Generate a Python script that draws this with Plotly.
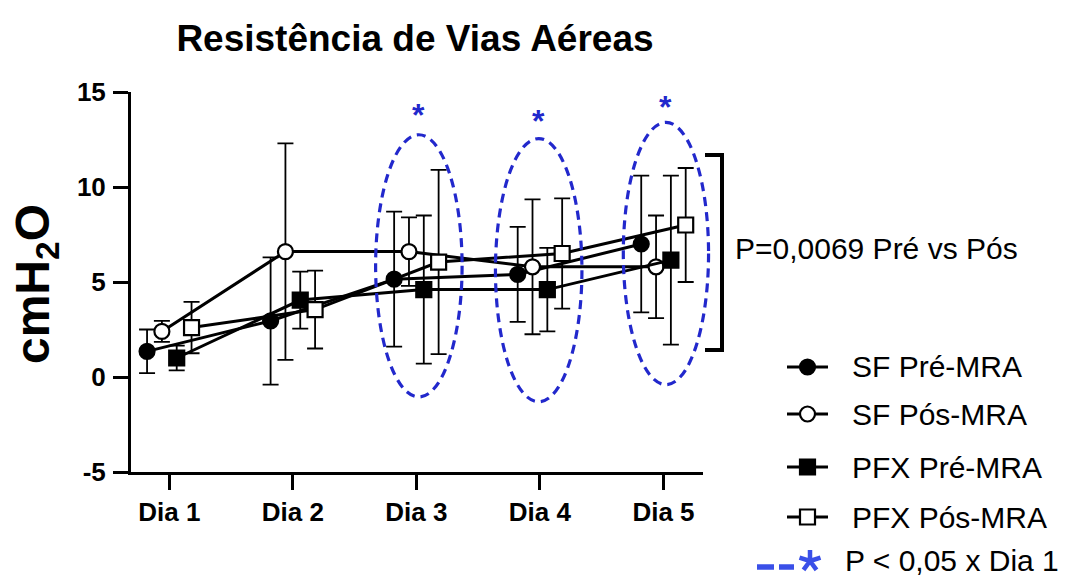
import plotly.graph_objects as go

# ---------------- data ----------------
days = ["Dia 1", "Dia 2", "Dia 3", "Dia 4", "Dia 5"]
series_names = ["SF Pré-MRA", "SF Pós-MRA", "PFX Pré-MRA", "PFX Pós-MRA"]

sf_pre = [1.35, 2.95, 5.15, 5.4, 7.0]
sf_pre_err = [1.15, 3.35, 3.55, 2.5, 3.6]
sf_pos = [2.4, 6.6, 6.6, 5.8, 5.8]
sf_pos_err = [0.55, 5.7, 1.8, 3.55, 2.7]
pfx_pre = [1.0, 4.05, 4.6, 4.6, 6.15]
pfx_pre_err = [0.65, 1.5, 3.9, 2.2, 4.45]
pfx_pos = [2.6, 3.55, 6.05, 6.5, 8.0]
pfx_pos_err = [1.35, 2.05, 4.85, 2.9, 3.0]

y_ticks = [-5, 0, 5, 10, 15]
y_ticktext = ["-5", "0", "5", "10", "15"]
title_text = "Resistência de Vias Aéreas"
p_text = "P=0,0069 Pré vs Pós"
sig_text = "P < 0,05 x Dia 1"

# ---------------- layout / style ----------------
W, H = 1089, 577
ML, MT = 131, 92
PLOT_R, PLOT_B = 703, 472
XR = [-0.31, 4.32]
YR = [-5, 15]
FONT = "Arial, 'Liberation Sans', sans-serif"
BLUE = "#2228cc"
BLUE2 = "#3a50e8"

offsets = [-0.18, -0.06, 0.06, 0.18]
symbols = ["circle", "circle", "square", "square"]
fills = ["black", "white", "black", "white"]
values = [sf_pre, sf_pos, pfx_pre, pfx_pos]
errors = [sf_pre_err, sf_pos_err, pfx_pre_err, pfx_pos_err]

pw = PLOT_R - ML
ph = PLOT_B - MT


def px_x(px):
    return (px - ML) / pw


def px_y(py):
    return (PLOT_B - py) / ph


def dom_x(v):
    return (v - XR[0]) / (XR[1] - XR[0])


def dom_y(v):
    return (v - YR[0]) / (YR[1] - YR[0])


fig = go.Figure()
for name, vals, errs, off, sym, fc in zip(series_names, values, errors, offsets, symbols, fills):
    fig.add_trace(go.Scatter(
        x=[i + off for i in range(len(days))],
        y=vals,
        mode="lines+markers",
        name=name,
        line=dict(color="black", width=3),
        marker=dict(symbol=sym, size=15, color=fc, line=dict(color="black", width=2.2)),
        error_y=dict(type="data", array=errs, visible=True, color="black", thickness=1.8, width=8),
        showlegend=False,
        cliponaxis=False,
    ))

shapes = []
annotations = []

# significance ellipses (day index, x shift, half width, y top, y bottom)
ellipses = [(2, 0.02, 0.35, 12.75, -1.05), (3, -0.01, 0.35, 12.55, -1.3), (4, 0.02, 0.345, 13.4, -0.4)]
star_y = [13.8, 13.5, 14.2]
for (d, sh, hw, yt, yb), sy in zip(ellipses, star_y):
    cx = d + sh
    shapes.append(dict(type="circle", xref="x domain", yref="y domain",
                       x0=dom_x(cx - hw), x1=dom_x(cx + hw), y0=dom_y(yb), y1=dom_y(yt),
                       line=dict(color=BLUE, width=3.2, dash="9px,6px"), layer="above"))
    annotations.append(dict(x=cx, y=sy, xref="x", yref="y", text="<b>*</b>", showarrow=False,
                            font=dict(family=FONT, size=32, color=BLUE), yanchor="middle"))

# bracket
bx, btop, bbot, barm = 722, 155, 350, 705
shapes += [
    dict(type="line", xref="paper", yref="paper", x0=px_x(bx), x1=px_x(bx), y0=px_y(btop), y1=px_y(bbot),
         line=dict(color="black", width=4)),
    dict(type="line", xref="paper", yref="paper", x0=px_x(barm), x1=px_x(bx + 2), y0=px_y(btop), y1=px_y(btop),
         line=dict(color="black", width=4)),
    dict(type="line", xref="paper", yref="paper", x0=px_x(barm), x1=px_x(bx + 2), y0=px_y(bbot), y1=px_y(bbot),
         line=dict(color="black", width=4)),
]
annotations.append(dict(x=px_x(733), y=px_y(249), xref="paper", yref="paper", text=p_text,
                        showarrow=False, xanchor="left", yanchor="middle",
                        font=dict(family=FONT, size=30, color="black")))

# custom legend
rows = [367, 414, 467, 517, 561]
for name, sym, fc, ry in zip(series_names, symbols, fills, rows[:4]):
    shapes.append(dict(type="line", xref="paper", yref="paper", x0=px_x(787), x1=px_x(828),
                       y0=px_y(ry), y1=px_y(ry), line=dict(color="black", width=3)))
    shapes.append(dict(type="circle" if sym == "circle" else "rect", xref="paper", yref="paper",
                       xsizemode="pixel", ysizemode="pixel", xanchor=px_x(807.5), yanchor=px_y(ry),
                       x0=-7.5, x1=7.5, y0=-7.5, y1=7.5, fillcolor=fc,
                       line=dict(color="black", width=2.2)))
    annotations.append(dict(x=px_x(850), y=px_y(ry), xref="paper", yref="paper", text=name,
                            showarrow=False, xanchor="left", yanchor="middle",
                            font=dict(family=FONT, size=30, color="black")))
ry = rows[4]
for a, b in [(757, 774), (779, 794)]:
    shapes.append(dict(type="line", xref="paper", yref="paper", x0=px_x(a), x1=px_x(b),
                       y0=px_y(ry + 6), y1=px_y(ry + 6), line=dict(color=BLUE2, width=5.5)))
# legend asterisk symbol (5 arms)
shapes.append(dict(type="path", xref="paper", yref="paper", xsizemode="pixel", ysizemode="pixel",
                   xanchor=px_x(810), yanchor=px_y(ry),
                   path="M0,0 L0,11 M0,0 L10.5,3.4 M0,0 L6.5,-8.9 M0,0 L-6.5,-8.9 M0,0 L-10.5,3.4",
                   line=dict(color=BLUE2, width=4.5)))
annotations.append(dict(x=px_x(843), y=px_y(ry - 1), xref="paper", yref="paper", text=sig_text,
                        showarrow=False, xanchor="left", yanchor="middle",
                        font=dict(family=FONT, size=30, color="black")))

# y axis title
annotations.append(dict(x=px_x(36), y=px_y(284), xref="paper", yref="paper", text="cmH<sub>2</sub>O",
                        textangle=-90, showarrow=False, xanchor="center", yanchor="middle",
                        font=dict(family=FONT, size=48, color="black", weight="bold")))

fig.update_layout(
    width=W, height=H,
    margin=dict(l=ML, r=W - PLOT_R, t=MT, b=H - PLOT_B, pad=0),
    paper_bgcolor="white", plot_bgcolor="white",
    title=dict(text=title_text, x=px_x(415), xref="paper", xanchor="center",
               y=1 - 38 / H, yref="container", yanchor="middle",
               font=dict(family=FONT, size=37, color="black", weight="bold")),
    xaxis=dict(range=XR, tickvals=list(range(len(days))), ticktext=days, showgrid=False, zeroline=False,
               showline=True, linecolor="black", linewidth=3, ticks="outside", ticklen=15, tickwidth=3,
               tickcolor="black", ticklabelstandoff=0,
               tickfont=dict(family=FONT, size=26, color="black", weight="bold")),
    yaxis=dict(range=YR, tickvals=y_ticks, ticktext=y_ticktext, showgrid=False, zeroline=False,
               showline=True, linecolor="black", linewidth=3, ticks="outside", ticklen=15, tickwidth=3,
               tickcolor="black", ticklabelstandoff=2,
               tickfont=dict(family=FONT, size=26, color="black", weight="bold")),
    shapes=shapes, annotations=annotations, showlegend=False,
)

fig.write_html("out.html")
